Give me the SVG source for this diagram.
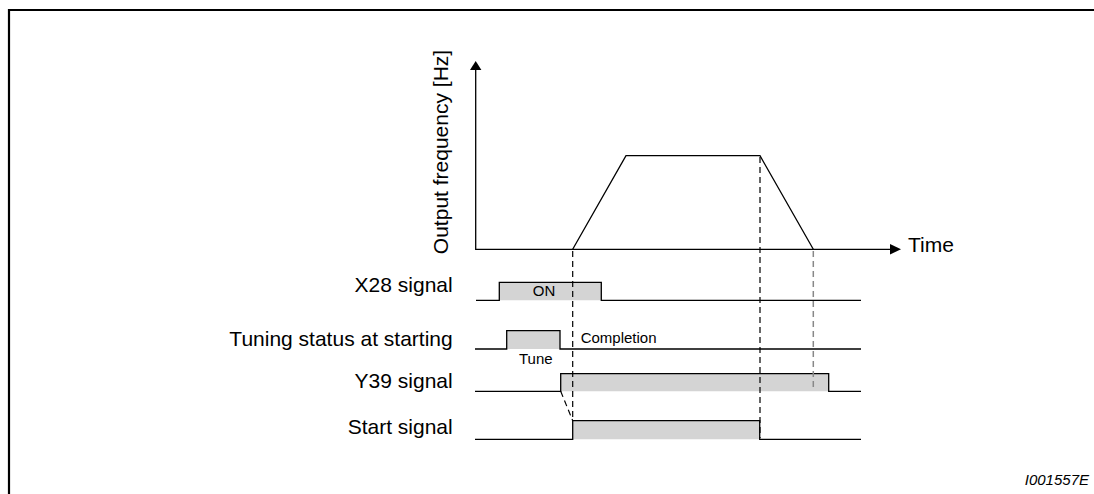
<svg xmlns="http://www.w3.org/2000/svg" width="1094" height="494" viewBox="0 0 1094 494">
<style>
.ln{fill:none;stroke:#000;stroke-width:1.3}
.pulse{fill:#d4d4d4;stroke:none}
.dash{fill:none;stroke:#000;stroke-width:1.2;stroke-dasharray:6 4}
.dashg{fill:none;stroke:#888;stroke-width:1.5;stroke-dasharray:6 4}
.lbl{font-family:"Liberation Sans",Arial,sans-serif;font-size:21px;fill:#000}
.sm{font-family:"Liberation Sans",Arial,sans-serif;font-size:15px;fill:#000}
</style>
<rect x="0" y="0" width="1094" height="494" fill="#fff"/>
<g id="frame">
<path d="M9 494 V10 H1094" fill="none" stroke="#000" stroke-width="2.2"/>
</g>
<g id="axes">
<path class="ln" d="M475.7 69 V249.3 H891"/>
<polygon points="475.7,61 470,70 481.4,70" fill="#000"/>
<polygon points="901,249.3 890,244 890,254.6" fill="#000"/>
<text class="lbl" x="908" y="252" font-size="20">Time</text>
<text class="lbl" font-size="20" text-anchor="middle" transform="translate(448,152) rotate(-90)">Output frequency [Hz]</text>
</g>
<g id="frequency">
<path class="ln" d="M572.7 249.3 L626 155.7 H760 L813.3 249.3"/>
</g>
<g id="x28">
<text class="lbl" x="452.7" y="292.3" text-anchor="end">X28 signal</text>
<path class="pulse" d="M499.3 300.3 V282.3 H601.3 V300.3 Z"/>
<path class="ln" d="M476 300.3 H499.3 V282.3 H601.3 V300.3 H861"/>
<text class="sm" x="544" y="295.5" text-anchor="middle">ON</text>
</g>
<g id="tuning">
<text class="lbl" x="452.7" y="345.7" text-anchor="end">Tuning status at starting</text>
<path class="pulse" d="M506.7 349 V330.7 H560 V349 Z"/>
<path class="ln" d="M475 349 H506.7 V330.7 H560 V349 H861"/>
<text class="sm" x="519" y="364">Tune</text>
<text class="sm" x="580.7" y="343">Completion</text>
</g>
<g id="y39">
<text class="lbl" x="452.7" y="388.3" text-anchor="end">Y39 signal</text>
<path class="pulse" d="M560.7 391.3 V373.7 H828.7 V391.3 Z"/>
<path class="ln" d="M475 391.3 H560.7 V373.7 H828.7 V391.3 H861"/>
</g>
<g id="start">
<text class="lbl" x="452.7" y="434" text-anchor="end">Start signal</text>
<path class="pulse" d="M572.7 439.3 V420.7 H759.7 V439.3 Z"/>
<path class="ln" d="M475 439.3 H572.7 V420.7 H759.7 V439.3 H861"/>
</g>
<g id="connectors">
<path class="dash" d="M572.7 251 V420"/>
<path class="dash" d="M760 157 V438"/>
<path class="dashg" d="M813.3 251 V391"/>
<path class="dash" d="M560.7 391.3 L572.7 420.7"/>
</g>
<g id="id">
<text class="sm" x="1089" y="485" text-anchor="end" font-style="italic">I001557E</text>
</g>
</svg>
